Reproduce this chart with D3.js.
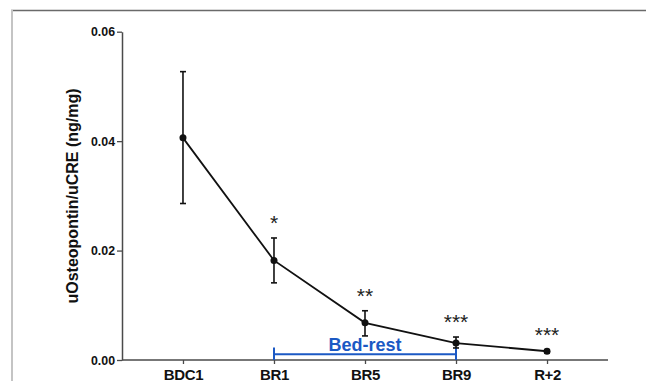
<!DOCTYPE html>
<html>
<head>
<meta charset="utf-8">
<script src="https://cdn.jsdelivr.net/npm/d3@7/dist/d3.min.js"></script>
<style>
  html, body { margin: 0; padding: 0; background: #fff; }
  svg { display: block; }
  text { font-family: "Liberation Sans", Arial, Helvetica, sans-serif; }
</style>
</head>
<body>
<svg id="chart" width="646" height="381"></svg>
<script>
// Time points of the study
const timepoints = ["BDC1", "BR1", "BR5", "BR9", "R+2"];
// Mean urinary osteopontin / creatinine ratio (ng/mg)
const meanValues = [0.0406, 0.0182, 0.0068, 0.0031, 0.0016];
// Upper and lower ends of the error bars
const upperValues = [0.0527, 0.0223, 0.0090, 0.0042, 0.0019];
const lowerValues = [0.0286, 0.0141, 0.0044, 0.0022, 0.0013];
// Significance marks versus baseline
const significance = ["", "*", "**", "***", "***"];
// Y-axis ticks
const yTicks = [0, 0.02, 0.04, 0.06];
// Bed-rest period bracket
const bedRest = { from: "BR1", to: "BR9", label: "Bed-rest" };

const svg = d3.select("#chart");
const W = 646, H = 381;

// Frame lines
svg.append("line").attr("x1", 11).attr("x2", W).attr("y1", 10.5).attr("y2", 10.5)
  .attr("stroke", "#6a6a6a").attr("stroke-width", 1.5);
svg.append("line").attr("x1", 12).attr("x2", 12).attr("y1", 10).attr("y2", H)
  .attr("stroke", "#c4c4c4").attr("stroke-width", 2);

const x = d3.scalePoint().domain(timepoints).range([122, 608]).padding(0.67);
const y = d3.scaleLinear().domain([0, 0.06]).range([360, 31.7]);

const axisColor = "#4a4a4a";

// Y axis
const yAxis = svg.append("g").attr("transform", "translate(122,0)")
  .call(d3.axisLeft(y).tickValues(yTicks).tickFormat(d3.format(".2f")).tickSize(5).tickPadding(2).tickSizeOuter(0));
yAxis.select(".domain").attr("stroke", axisColor).attr("stroke-width", 1.5);
yAxis.selectAll(".tick line").attr("stroke", axisColor).attr("stroke-width", 1.3);
yAxis.selectAll(".tick text")
  .style("font-size", "13px").style("font-weight", "bold").attr("fill", "#111")
  .attr("transform", "scale(0.95,1.05)")
  .attr("x", -7 / 0.95).attr("dy", "0.3em");

// X axis
const xAxis = svg.append("g").attr("transform", "translate(0,360)")
  .call(d3.axisBottom(x).tickSize(4).tickPadding(6).tickSizeOuter(0));
xAxis.select(".domain").attr("stroke", axisColor).attr("stroke-width", 1.5)
  .attr("d", "M122,0H608");
xAxis.selectAll(".tick line").attr("stroke", axisColor).attr("stroke-width", 1.3);
xAxis.selectAll(".tick text")
  .style("font-size", "15px").style("font-weight", "bold").attr("fill", "#111")
  .attr("dy", null).attr("y", 20).attr("textLength", null)
  .attr("transform", "scale(1,1)")
  .style("letter-spacing", "-0.4px");

// Y axis title
svg.append("text")
  .attr("transform", "translate(77.5,196) rotate(-90)")
  .attr("text-anchor", "middle")
  .style("font-size", "16px").style("font-weight", "bold").attr("fill", "#111")
  .text("uOsteopontin/uCRE (ng/mg)");

// Bed-rest bracket
const blue = "#1b59c4";
const bx1 = x(bedRest.from), bx2 = x(bedRest.to);
const bracket = svg.append("g");
bracket.append("line").attr("x1", bx1).attr("x2", bx2).attr("y1", 354.3).attr("y2", 354.3)
  .attr("stroke", blue).attr("stroke-width", 2);
[bx1, bx2].forEach(bx => {
  bracket.append("line").attr("x1", bx).attr("x2", bx).attr("y1", 347.5).attr("y2", 360)
    .attr("stroke", blue).attr("stroke-width", 2);
});
bracket.append("text")
  .attr("x", (bx1 + bx2) / 2).attr("y", 351)
  .attr("text-anchor", "middle")
  .style("font-size", "18px").style("font-weight", "bold").attr("fill", blue)
  .text(bedRest.label);

const data = timepoints.map((t, i) => ({
  t, mean: meanValues[i], hi: upperValues[i], lo: lowerValues[i], sig: significance[i]
}));

// Error bars
const eb = svg.append("g").attr("stroke", "#111").attr("stroke-width", 1.6);
data.forEach(d => {
  const cx = x(d.t);
  eb.append("line").attr("x1", cx).attr("x2", cx).attr("y1", y(d.hi)).attr("y2", y(d.lo));
  eb.append("line").attr("x1", cx - 3).attr("x2", cx + 3).attr("y1", y(d.hi)).attr("y2", y(d.hi));
  eb.append("line").attr("x1", cx - 3).attr("x2", cx + 3).attr("y1", y(d.lo)).attr("y2", y(d.lo));
});

// Mean line
svg.append("path").datum(data)
  .attr("fill", "none").attr("stroke", "#111").attr("stroke-width", 1.8)
  .attr("d", d3.line().x(d => x(d.t)).y(d => y(d.mean)));

// Markers
svg.append("g").selectAll("circle").data(data).join("circle")
  .attr("cx", d => x(d.t)).attr("cy", d => y(d.mean)).attr("r", 3.5).attr("fill", "#111");

// Significance stars
svg.append("g").selectAll("text").data(data.filter(d => d.sig)).join("text")
  .attr("x", d => x(d.t)).attr("y", d => y(d.hi) - 8)
  .attr("text-anchor", "middle")
  .style("font-size", "21px").attr("fill", "#222")
  .text(d => d.sig);
</script>
</body>
</html>
